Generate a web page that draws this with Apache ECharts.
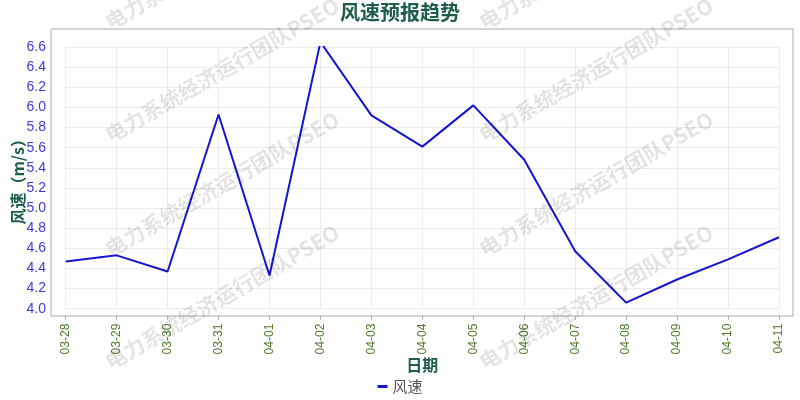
<!DOCTYPE html>
<html>
<head>
<meta charset="utf-8">
<title>风速预报趋势</title>
<script src="https://cdn.jsdelivr.net/npm/echarts@6/dist/echarts.min.js"></script>
<style>
    html, body { margin: 0; padding: 0; background: #fff; }
    #main { width: 800px; height: 400px; }
</style>
</head>
<body>
<div id="main"></div>
<script>
// 日期
var dates = ['03-28', '03-29', '03-30', '03-31', '04-01', '04-02', '04-03', '04-04',
             '04-05', '04-06', '04-07', '04-08', '04-09', '04-10', '04-11'];
// 风速 (m/s)
var windSpeed = [4.47, 4.53, 4.37, 5.93, 4.33, 6.65, 5.92, 5.61,
                 6.02, 5.48, 4.57, 4.06, 4.29, 4.49, 4.71];
var yMin = 4.0, yMax = 6.6, yStep = 0.2;

var markText = '电力系统经济运行团队PSEO';
var markCenters = [[222, -43], [222, 70], [222, 184], [222, 297],
                   [596, -43], [596, 70], [596, 184], [596, 297]];

var titleColor = '#1e5d4e';

var myChart = echarts.init(document.getElementById('main'));

// 水印
var marks = markCenters.map(function (c) {
    return {
        type: 'text',
        x: c[0],
        y: c[1],
        rotation: Math.PI / 6,
        z: 100,
        silent: true,
        style: {
            text: markText,
            x: 0,
            y: 0,
            align: 'center',
            verticalAlign: 'middle',
            font: 'bold 21px "Noto Sans CJK SC", sans-serif',
            fill: 'rgba(0,0,0,0.11)'
        }
    };
});

var option = {
    backgroundColor: '#fff',
    animation: false,
    title: {
        text: '风速预报趋势',
        left: 'center',
        top: -3,
        textStyle: {
            fontFamily: 'Noto Sans CJK SC',
            fontSize: 20,
            fontWeight: 'bold',
            color: titleColor
        }
    },
    legend: {
        data: ['风速'],
        bottom: 1,
        left: 'center',
        icon: 'rect',
        itemWidth: 10,
        itemHeight: 3,
        textStyle: {
            fontFamily: 'Noto Sans CJK SC',
            fontSize: 15,
            color: '#555'
        }
    },
    graphic: marks,
    grid: [
        // 绘图区
        { left: 65.7, right: 21, top: 47, bottom: 91.3, outerBoundsMode: 'none' },
        // 外框
        { left: 51, right: 7, top: 29, bottom: 84, show: true, outerBoundsMode: 'none',
          borderColor: '#aaa', borderWidth: 1, backgroundColor: 'transparent' }
    ],
    xAxis: [{
        type: 'category',
        gridIndex: 0,
        data: dates,
        boundaryGap: false,
        offset: 7,
        name: '日期',
        nameLocation: 'middle',
        nameGap: 41,
        nameMoveOverlap: false,
        nameTextStyle: {
            fontFamily: 'Noto Sans CJK SC',
            fontSize: 16,
            fontWeight: 'bold',
            color: titleColor
        },
        axisLine: { show: false },
        axisTick: { show: true, length: 4, lineStyle: { color: '#aaa' } },
        axisLabel: {
            rotate: 90,
            margin: 8,
            fontFamily: 'Liberation Sans',
            fontSize: 12,
            color: '#4f7a2c'
        },
        splitLine: { show: true, lineStyle: { color: '#ececec', width: 1 } }
    }, {
        type: 'category',
        gridIndex: 1,
        data: dates,
        show: false
    }],
    yAxis: [{
        type: 'value',
        gridIndex: 0,
        min: yMin,
        max: yMax,
        interval: yStep,
        offset: 14.7,
        name: '风速（m/s）',
        nameLocation: 'middle',
        nameGap: 25,
        nameMoveOverlap: false,
        nameTextStyle: {
            fontFamily: 'Noto Sans CJK SC',
            fontSize: 16,
            fontWeight: 'bold',
            color: titleColor
        },
        axisLine: { show: false },
        axisTick: { show: false },
        axisLabel: {
            margin: 5,
            fontFamily: 'Liberation Sans',
            fontSize: 14,
            color: '#3b3bd9',
            formatter: function (v) { return v.toFixed(1); }
        },
        splitLine: { show: true, lineStyle: { color: '#ececec', width: 1 } }
    }, {
        type: 'value',
        gridIndex: 1,
        show: false
    }],
    series: [{
        name: '风速',
        type: 'line',
        xAxisIndex: 0,
        yAxisIndex: 0,
        data: windSpeed,
        showSymbol: false,
        symbol: 'none',
        lineStyle: { color: '#1414d2', width: 2 },
        itemStyle: { color: '#1414d2' }
    }]
};

myChart.setOption(option);
</script>
</body>
</html>
